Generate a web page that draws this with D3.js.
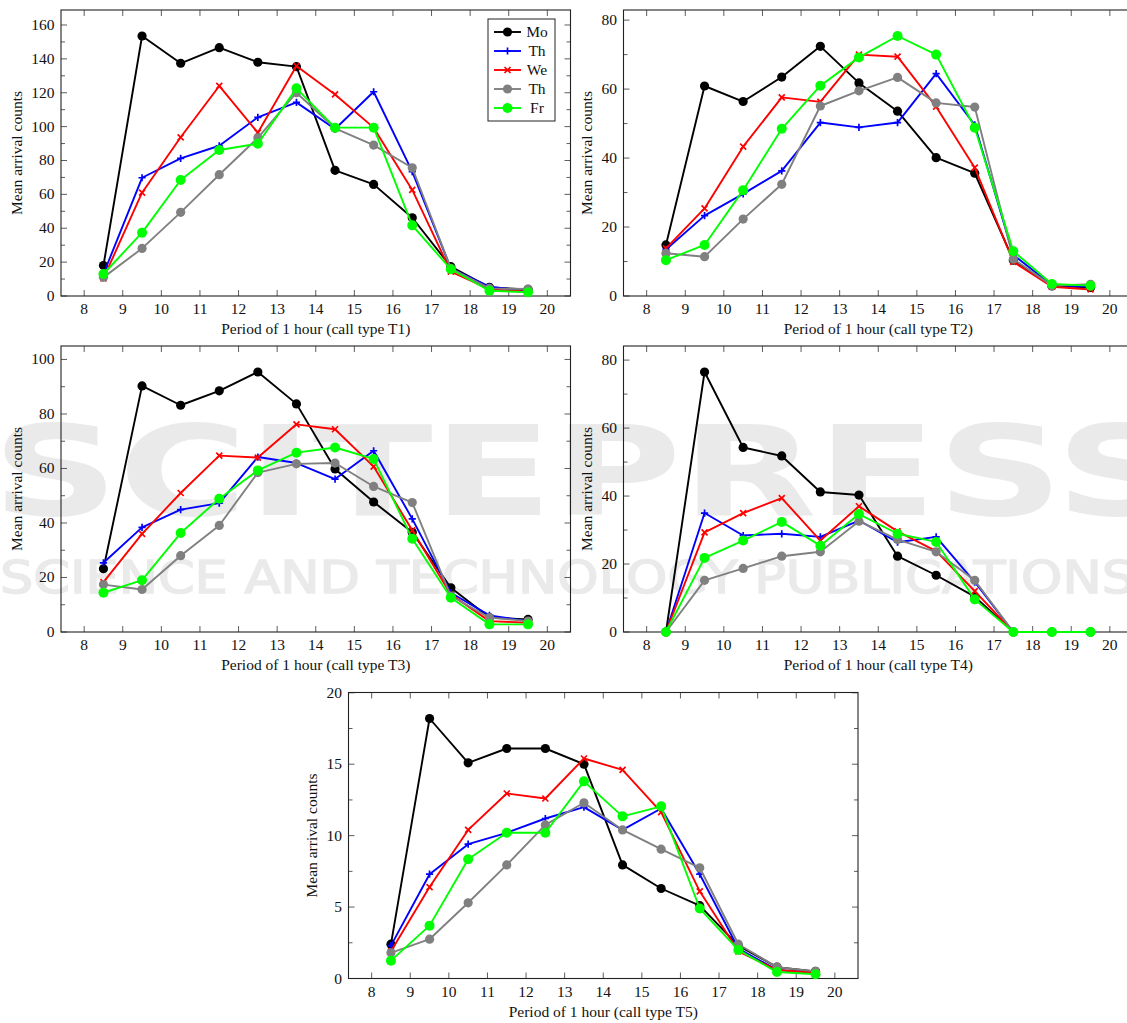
<!DOCTYPE html>
<html>
<head>
<meta charset="utf-8">
<script src="https://cdn.jsdelivr.net/npm/d3@7"></script>
<style>
  body { margin: 0; background: #fff; }
  svg { display: block; }
  .tick-label, .axis-label, .legend-label { font-family: "Liberation Serif", "Times New Roman", serif; font-size: 15.5px; fill: #111; }
</style>
</head>
<body>
<div id="chart"></div>
<script>
// Mean arrival counts per 1-hour period, five call types, five weekdays

const hours = [8.5, 9.5, 10.5, 11.5, 12.5, 13.5, 14.5, 15.5, 16.5, 17.5, 18.5, 19.5];
const xTickLabels = [8, 9, 10, 11, 12, 13, 14, 15, 16, 17, 18, 19, 20];
const dayLabels = ["Mo", "Th", "We", "Th", "Fr"];
const dayColors = ["#000000", "#0000ff", "#ff0000", "#808080", "#00ff00"];
const dayMarks = ["dot", "plus", "cross", "dot", "bigdot"];

// call type T1
const t1Mo = [18, 153.5, 137.4, 146.6, 138, 135.4, 74.2, 65.9, 46.2, 17.3, 5.1, 3.9];
const t1Tu = [13, 69.8, 81.3, 88.7, 105.5, 114.3, 98.6, 120.6, 73.4, 16.3, 5.5, 3.1];
const t1We = [10.4, 61, 93.7, 124, 96.4, 135.8, 119, 99.4, 62.6, 14.4, 4, 2.5];
const t1Th = [11, 28.1, 49.4, 71.6, 93.4, 120, 99, 89.1, 75.7, 16.3, 4.5, 4.1];
const t1Fr = [13, 37.4, 68.5, 86.2, 89.9, 122.6, 99.4, 99.4, 41.7, 15.8, 3.1, 2.2];
const t1YTicks = [0, 20, 40, 60, 80, 100, 120, 140, 160];

// call type T2
const t2Mo = [14.8, 60.9, 56.4, 63.5, 72.4, 61.8, 53.6, 40.1, 35.6, 10.4, 2.9, 2.5];
const t2Tu = [13.5, 23.3, 29.6, 36.3, 50.3, 48.9, 50.3, 64.5, 49.6, 11.9, 3.2, 2.7];
const t2We = [13.8, 25.4, 43.3, 57.6, 56.3, 70, 69.4, 54.9, 37.2, 9.9, 2.7, 1.9];
const t2Th = [12.4, 11.4, 22.3, 32.4, 55.1, 59.5, 63.4, 56, 54.8, 10.7, 3, 3.4];
const t2Fr = [10.4, 14.8, 30.7, 48.5, 61, 69.2, 75.4, 70, 48.8, 13, 3.5, 3];
const t2YTicks = [0, 20, 40, 60, 80];

// call type T3
const t3Mo = [23.2, 90.3, 83.2, 88.5, 95.4, 83.7, 59.8, 47.7, 36.6, 16.2, 5.3, 4.6];
const t3Tu = [25.4, 38.4, 44.9, 47.3, 64.2, 62, 56.1, 66.5, 41.5, 14.4, 6.1, 4];
const t3We = [18.3, 36, 51, 64.7, 64, 76.2, 74.4, 60.7, 37.3, 13.8, 4, 3.4];
const t3Th = [17.4, 15.6, 28, 39.1, 58.5, 61.7, 62, 53.4, 47.5, 13.2, 5.3, 4];
const t3Fr = [14.4, 19, 36.3, 48.9, 59.3, 65.8, 67.7, 63.5, 34.2, 12.6, 2.8, 2.8];
const t3YTicks = [0, 20, 40, 60, 80, 100];

// call type T4
const t4Mo = [0, 76.5, 54.3, 51.8, 41.2, 40.3, 22.3, 16.7, 10.4, 0, 0, 0];
const t4Tu = [0, 35, 28.4, 28.9, 28, 32.8, 26.4, 28, 14.7, 0, 0, 0];
const t4We = [0, 29.3, 35, 39.4, 26.9, 37, 29.6, 23.8, 12, 0, 0, 0];
const t4Th = [0, 15.2, 18.7, 22.3, 23.6, 32.6, 27.2, 23.6, 15.2, 0, 0, 0];
const t4Fr = [0, 21.8, 26.9, 32.4, 25.4, 34.7, 28.9, 26.5, 9.6, 0, 0, 0];
const t4YTicks = [0, 20, 40, 60, 80];

// call type T5
const t5Mo = [2.4, 18.2, 15.1, 16.1, 16.1, 15, 7.95, 6.3, 5.1, 2.3, 0.8, 0.5];
const t5Tu = [2.3, 7.3, 9.4, 10.2, 11.2, 12, 10.4, 11.9, 7.3, 2.1, 0.6, 0.4];
const t5We = [1.9, 6.4, 10.4, 12.95, 12.6, 15.4, 14.6, 11.65, 6.1, 1.9, 0.6, 0.4];
const t5Th = [1.8, 2.75, 5.3, 7.95, 10.75, 12.3, 10.4, 9.05, 7.75, 2.4, 0.8, 0.5];
const t5Fr = [1.25, 3.7, 8.35, 10.2, 10.2, 13.8, 11.35, 12.05, 4.9, 2.0, 0.45, 0.3];
const t5YTicks = [0, 5, 10, 15, 20];

const panels = [
    { type: "T1", left: 61, top: 10, series: [t1Mo, t1Tu, t1We, t1Th, t1Fr], yTicks: t1YTicks, minor: 10, legend: true },
    { type: "T2", left: 623.5, top: 10, series: [t2Mo, t2Tu, t2We, t2Th, t2Fr], yTicks: t2YTicks, minor: 10 },
    { type: "T3", left: 61, top: 346, series: [t3Mo, t3Tu, t3We, t3Th, t3Fr], yTicks: t3YTicks, minor: 10 },
    { type: "T4", left: 623.5, top: 346, series: [t4Mo, t4Tu, t4We, t4Th, t4Fr], yTicks: t4YTicks, minor: 10 },
    { type: "T5", left: 348.5, top: 692.5, series: [t5Mo, t5Tu, t5We, t5Th, t5Fr], yTicks: t5YTicks, minor: 2.5 }
];

const W = 1127, H = 1023;
const pw = 509.5, ph = 286;

const svg = d3.select("#chart").append("svg")
    .attr("width", W)
    .attr("height", H);

// faint publisher watermark behind everything
const wm = svg.append("g").attr("fill", "#eaeaea").style("font-family", "'DejaVu Sans', sans-serif");
wm.append("text")
    .attr("x", -8).attr("y", 515)
    .attr("textLength", 1190).attr("lengthAdjust", "spacingAndGlyphs")
    .style("font-size", "124px").style("font-weight", "bold")
    .text("SCITEPRESS");
wm.append("text")
    .attr("x", 0).attr("y", 593)
    .attr("textLength", 1135).attr("lengthAdjust", "spacingAndGlyphs")
    .attr("stroke", "#eaeaea").attr("stroke-width", 1.5)
    .style("font-size", "45px")
    .text("SCIENCE AND TECHNOLOGY PUBLICATIONS");

function markPath(kind, s) {
    if (kind === "plus") return `M${-s},0H${s}M0,${-s}V${s}`;
    return `M${-s},${-s}L${s},${s}M${-s},${s}L${s},${-s}`;
}

function drawMark(sel, kind, color, x, y) {
    if (kind === "dot" || kind === "bigdot") {
        sel.append("circle")
            .attr("cx", x).attr("cy", y)
            .attr("r", kind === "bigdot" ? 5 : 4.6)
            .attr("fill", color);
    } else {
        sel.append("path")
            .attr("transform", `translate(${x},${y})`)
            .attr("d", markPath(kind, kind === "plus" ? 3.6 : 3))
            .attr("stroke", color)
            .attr("stroke-width", 1.7)
            .attr("fill", "none");
    }
}

panels.forEach(p => {
    const g = svg.append("g").attr("transform", `translate(${p.left},${p.top})`);

    const yMax = d3.max(p.series.flat()) * 1.1;
    const x = d3.scaleLinear().domain([7.4, 20.6]).range([0, pw]);
    const y = d3.scaleLinear().domain([0, yMax]).range([ph, 0]);

    const minorTicks = d3.range(0, yMax, p.minor).filter(v => !p.yTicks.includes(v));

    // tick marks on all four sides, pointing inward
    const ticks = g.append("g").attr("stroke", "#333").attr("stroke-width", 0.8);
    xTickLabels.forEach(v => {
        ticks.append("line").attr("x1", x(v)).attr("x2", x(v)).attr("y1", ph).attr("y2", ph - 6);
        ticks.append("line").attr("x1", x(v)).attr("x2", x(v)).attr("y1", 0).attr("y2", 6);
    });
    p.yTicks.forEach(v => {
        ticks.append("line").attr("x1", 0).attr("x2", 6).attr("y1", y(v)).attr("y2", y(v));
        ticks.append("line").attr("x1", pw).attr("x2", pw - 6).attr("y1", y(v)).attr("y2", y(v));
    });
    minorTicks.forEach(v => {
        ticks.append("line").attr("x1", 0).attr("x2", 4).attr("y1", y(v)).attr("y2", y(v));
        ticks.append("line").attr("x1", pw).attr("x2", pw - 4).attr("y1", y(v)).attr("y2", y(v));
    });

    // frame
    g.append("rect")
        .attr("width", pw).attr("height", ph)
        .attr("fill", "none")
        .attr("stroke", "#222")
        .attr("stroke-width", 1.1);

    // tick labels
    g.selectAll(".xl")
        .data(xTickLabels)
        .join("text")
        .attr("class", "tick-label")
        .attr("x", d => x(d))
        .attr("y", ph + 18)
        .attr("text-anchor", "middle")
        .text(d => d);

    const yl = g.selectAll(".yl")
        .data(p.yTicks)
        .join("text")
        .attr("class", "tick-label")
        .attr("x", -6.5)
        .attr("y", d => y(d) + 5)
        .attr("text-anchor", "end")
        .text(d => d);

    let maxW = 0;
    yl.each(function() { maxW = Math.max(maxW, this.getBBox().width); });

    // axis labels
    g.append("text")
        .attr("class", "axis-label")
        .attr("x", pw / 2)
        .attr("y", ph + 38)
        .attr("text-anchor", "middle")
        .text(`Period of 1 hour (call type ${p.type})`);

    g.append("text")
        .attr("class", "axis-label")
        .attr("transform", `translate(${-6.5 - maxW - 9},${ph / 2}) rotate(-90)`)
        .attr("text-anchor", "middle")
        .text("Mean arrival counts");

    // series
    const line = d3.line().x((d, i) => x(hours[i])).y(d => y(d));
    p.series.forEach((vals, k) => {
        const sg = g.append("g");
        sg.append("path")
            .datum(vals)
            .attr("d", line)
            .attr("fill", "none")
            .attr("stroke", dayColors[k])
            .attr("stroke-width", 1.9)
            .attr("stroke-linejoin", "round");
        vals.forEach((v, i) => drawMark(sg, dayMarks[k], dayColors[k], x(hours[i]), y(v)));
    });

    if (p.legend) {
        const lg = g.append("g").attr("transform", `translate(${427},${9})`);
        lg.append("rect")
            .attr("width", 67).attr("height", 102)
            .attr("fill", "#fff")
            .attr("stroke", "#222")
            .attr("stroke-width", 1);
        dayLabels.forEach((lab, k) => {
            const ry = 13 + k * 19;
            lg.append("line")
                .attr("x1", 6).attr("x2", 33)
                .attr("y1", ry).attr("y2", ry)
                .attr("stroke", dayColors[k])
                .attr("stroke-width", 1.9);
            drawMark(lg, dayMarks[k], dayColors[k], 19.5, ry);
            lg.append("text")
                .attr("class", "legend-label")
                .attr("x", 49)
                .attr("y", ry + 5)
                .attr("text-anchor", "middle")
                .text(lab);
        });
    }
});
</script>
</body>
</html>
